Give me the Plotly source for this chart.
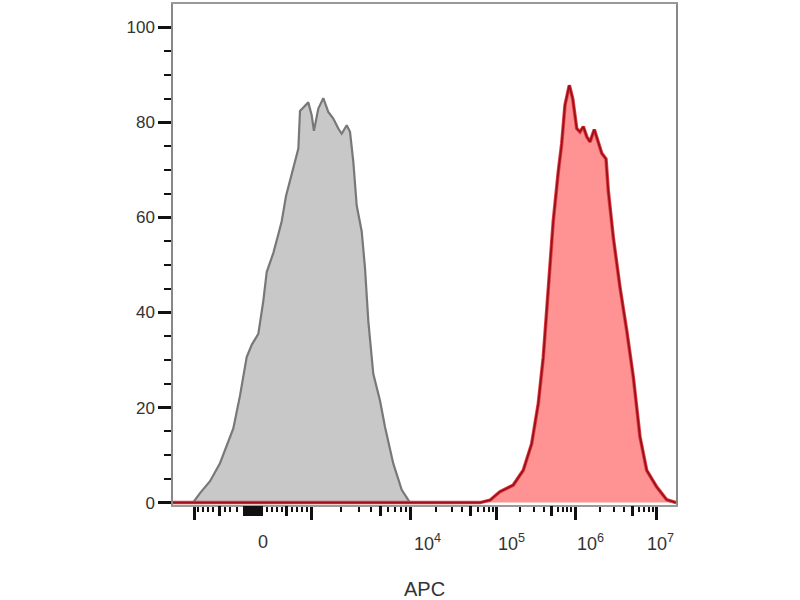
import numpy as np
import plotly.graph_objects as go

# display-scale channel (0..1000) vs event count
iso_x = [39.8, 53.7, 73.6, 93.4, 119.9, 133.2, 146.5, 156.5, 169.6, 179.5,
         186.3, 199.4, 209.3, 216.1, 224.7, 239.2, 249.2, 252.5, 260.5, 269.0,
         275.7, 280.2, 288.9, 298.8, 308.7, 318.7, 328.6, 335.4, 345.3, 351.9,
         358.5, 365.2, 375.1, 381.7, 388.3, 398.2, 411.5, 421.5, 438.0, 454.7,
         471.2]
iso_y = [0, 2.0, 4.5, 8.3, 15.6, 22.5, 30.6, 33.2, 35.5, 42.4,
         48.5, 52.5, 56.4, 59.2, 64.5, 70.3, 74.5, 82.4, 83.3, 84.2,
         81.5, 78.2, 82.9, 85.1, 82.2, 80.8, 78.7, 77.6, 79.4, 78.0,
         71.7, 62.5, 57.1, 49.4, 38.2, 27.1, 21.5, 15.9, 8.2, 2.7,
         0]

apc_x = [0, 610.3, 630.2, 650.1, 676.5, 696.4, 713.1, 726.2, 736.2, 746.1,
         756.0, 766.0, 772.8, 779.3, 787.9, 794.6, 802.6, 809.1, 815.7, 822.5,
         829.0, 837.6, 845.5, 852.3, 860.8, 865.4, 875.4, 888.7, 902.0, 915.1,
         928.4, 941.7, 961.6, 981.5, 1000]
apc_y = [0, 0, 0.5, 2.3, 3.7, 6.8, 12.4, 20.8, 30.6, 45.2,
         59.2, 69.6, 75.5, 83.6, 87.8, 85.0, 78.7, 78.0, 79.1, 77.0,
         75.9, 78.5, 75.6, 73.5, 72.3, 65.5, 55.7, 45.2, 36.2, 26.4,
         13.8, 6.8, 3.3, 0.6, 0]

# axis decoration (channel positions)
decade_pos = [276.3, 471.2, 644.1, 799.2, 962.2]   # 10^3 .. 10^7
major_ticks = [41.8] + decade_pos
lin_minor = [49.7, 59.6, 69.6, 79.5, 103.4, 113.3, 127.2, 186.9, 196.8, 206.8,
             216.7, 236.6, 246.5, 256.5, 266.4]
lin_medium = [93.4, 226.6, 141.2, 146.1, 151.1, 156.1, 161.0, 166.0, 171.0, 175.9]
label_pos = [178.9, 505, 672, 831, 970]
label_text = ["0", "10<sup>4</sup>", "10<sup>5</sup>", "10<sup>6</sup>", "10<sup>7</sup>"]
y_major = [0, 20, 40, 60, 80, 100]
y_minor = [5, 10, 15, 25, 30, 35, 45, 50, 55, 65, 70, 75, 85, 90, 95]

minor_ticks = list(lin_minor)
medium_ticks = list(lin_medium)
for a, b in zip(decade_pos[:-1], decade_pos[1:]):
    for k in range(2, 10):
        p = a + np.log10(k) * (b - a)
        (medium_ticks if k == 5 else minor_ticks).append(p)

fig = go.Figure()
fig.add_trace(go.Scatter(x=iso_x, y=iso_y, mode="lines", fill="tozeroy",
                         fillcolor="#c8c8c8", line=dict(color="#787878", width=2.2)))
fig.add_trace(go.Scatter(x=apc_x, y=apc_y, mode="lines", fill="tozeroy",
                         fillcolor="#ff9292", line=dict(color="#e04048", width=3.5)))
fig.add_trace(go.Scatter(x=apc_x, y=apc_y, mode="lines",
                         line=dict(color="#9c1018", width=1.8)))
fig.add_trace(go.Scatter(x=[], y=[], xaxis="x2"))

font = dict(family="Liberation Sans, Arial, sans-serif", size=17, color="#333")

for x, t in zip(label_pos, label_text):
    fig.add_annotation(x=x, y=0, xref="x", yref="paper", text=t, showarrow=False,
                       yanchor="middle", yshift=-37,
                       font=dict(family=font["family"], size=18, color="#333"))
fig.add_annotation(x=0.5, y=0, xref="paper", yref="paper", text="APC", showarrow=False,
                   yanchor="middle", yshift=-84,
                   font=dict(family=font["family"], size=20, color="#333"))

fig.update_layout(
    width=800, height=600,
    margin=dict(l=173, r=124, t=2, b=95),
    plot_bgcolor="white", paper_bgcolor="white",
    showlegend=False,
    xaxis=dict(range=[0, 1000], showgrid=False, zeroline=False,
               showline=True, linecolor="#999", linewidth=1.5, mirror=True,
               tickmode="array", tickvals=major_ticks, showticklabels=False,
               ticks="outside", ticklen=13, tickwidth=3, tickcolor="#111",
               minor=dict(tickmode="array", tickvals=minor_ticks, ticks="outside",
                          ticklen=5, tickwidth=2, tickcolor="#111")),
    xaxis2=dict(overlaying="x", matches="x", anchor="y", side="bottom",
                showgrid=False, zeroline=False, showline=False,
                tickmode="array", tickvals=medium_ticks, showticklabels=False,
                ticks="outside", ticklen=10, tickwidth=2.5, tickcolor="#111"),
    yaxis=dict(range=[-0.5, 104.9], showgrid=False, zeroline=False,
               showline=True, linecolor="#888", linewidth=1.5, mirror=True,
               tickmode="array", tickvals=y_major,
               ticks="outside", ticklen=13, tickwidth=3, tickcolor="#111",
               tickfont=font,
               minor=dict(tickmode="array", tickvals=y_minor,
                          ticks="outside", ticklen=7, tickwidth=2, tickcolor="#111")),
)

fig.write_html("out.html", config={"displayModeBar": False},
               post_script="document.body.style.margin='0';")
